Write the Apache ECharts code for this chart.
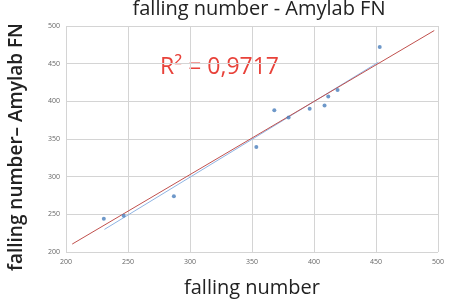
<!DOCTYPE html>
<html>
<head>
<meta charset="utf-8">
<script src="https://cdn.jsdelivr.net/npm/echarts@6/dist/echarts.min.js"></script>
<style>
  html, body { margin: 0; padding: 0; background: #fff; }
  #chart { width: 466px; height: 303px; }
</style>
</head>
<body>
<div id="chart"></div>
<script>
// falling number (x) vs Amylab FN (y)
const fallingNumber = [230.5, 246.5, 287, 353.5, 368, 379.5, 396.5, 408.5, 411.5, 419, 453];
const amylabFN      = [244, 248, 274, 339.5, 388, 378.5, 390, 394.5, 406.5, 415, 472];

// lines drawn in the chart (red = fitted line, blue = trendline)
const redLine  = [[205, 210.5], [497, 494]];
const blueLine = [[231, 230], [452, 452]];

const r2Text = 'R² = 0,9717';
const yName = 'falling number– Amylab FN';

const chart = echarts.init(document.getElementById('chart'));

const option = {
  animation: false,
  title: {
    text: 'falling number - Amylab FN',
    left: 254,
    textAlign: 'center',
    top: -6,
    textStyle: { fontFamily: 'Open Sans', fontSize: 20, fontWeight: 500, color: '#222' }
  },
  grid: { left: 66, right: 28, top: 26, bottom: 47 },
  xAxis: {
    type: 'value',
    min: 200, max: 500, interval: 50,
    name: 'falling number',
    nameLocation: 'middle',
    nameGap: 26,
    nameTextStyle: { fontFamily: 'Open Sans', fontSize: 20, fontWeight: 500, color: '#222' },
    axisLine: { show: false },
    axisTick: { show: false },
    axisLabel: { fontFamily: 'Open Sans', fontSize: 7, color: '#666', margin: 6 },
    splitLine: { lineStyle: { color: '#d4d4d4', width: 1 } }
  },
  yAxis: {
    type: 'value',
    min: 200, max: 500, interval: 50,
    axisLine: { show: false },
    axisTick: { show: false },
    axisLabel: { fontFamily: 'Open Sans', fontSize: 7, color: '#666', margin: 6 },
    splitLine: { lineStyle: { color: '#d4d4d4', width: 1 } }
  },
  graphic: [{
    type: 'text',
    left: 160,
    top: 56,
    style: { text: r2Text, fontFamily: 'Open Sans', fontSize: 23, fill: '#e8423a' }
  }, {
    type: 'text',
    x: 17,
    y: 147,
    rotation: Math.PI / 2,
    style: {
      text: yName, fontFamily: 'Open Sans', fontSize: 19, fontWeight: 600, fill: '#222',
      align: 'center', verticalAlign: 'middle'
    }
  }],
  series: [
    {
      type: 'line',
      data: blueLine,
      symbol: 'none',
      lineStyle: { color: '#8fb4e3', width: 1 },
      z: 2
    },
    {
      type: 'line',
      data: redLine,
      symbol: 'none',
      lineStyle: { color: '#c0504d', width: 1 },
      z: 3
    },
    {
      type: 'scatter',
      data: fallingNumber.map((x, i) => [x, amylabFN[i]]),
      symbolSize: 4,
      itemStyle: { color: '#4a7ebb' },
      z: 4
    }
  ]
};

chart.setOption(option);
</script>
</body>
</html>
